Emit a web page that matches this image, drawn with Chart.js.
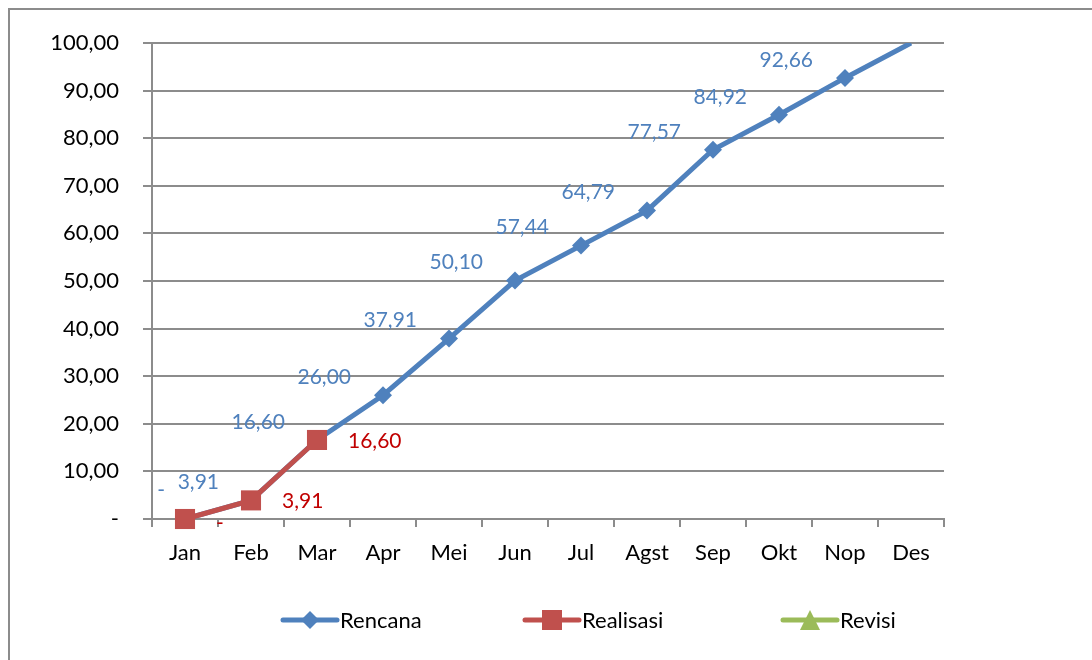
<!DOCTYPE html>
<html>
<head>
<meta charset="utf-8">
<script src="https://cdn.jsdelivr.net/npm/chart.js@4.4.1/dist/chart.umd.min.js"></script>
<style>
  html, body { margin: 0; padding: 0; background: #fff; overflow: hidden; }
  #frame { position: absolute; left: 8px; top: 8px; width: 1200px; height: 800px; border: 2px solid #8c8c8c; box-sizing: border-box; }
  #wrap { position: absolute; left: 0; top: 0; width: 1092px; height: 660px; }
</style>
</head>
<body>
<div id="frame"></div>
<div id="wrap"><canvas id="c" width="1092" height="660"></canvas></div>
<script>
// ---- data ----
const categories = ['Jan', 'Feb', 'Mar', 'Apr', 'Mei', 'Jun', 'Jul', 'Agst', 'Sep', 'Okt', 'Nop', 'Des'];
const rencana   = [0, 3.91, 16.60, 26.00, 37.91, 50.10, 57.44, 64.79, 77.57, 84.92, 92.66, 100.00];
const realisasi = [0, 3.91, 16.60, null, null, null, null, null, null, null, null, null];
const revisi    = [null, null, null, null, null, null, null, null, null, null, null, null];
const yTicks    = [0, 10, 20, 30, 40, 50, 60, 70, 80, 90, 100];

const FONT = 'Lato, "Open Sans", sans-serif';
const BLUE = '#4F81BD', RED = '#C0504D', GREEN = '#9BBB59';

function fmt(v) { return v === 0 ? '-' : v.toFixed(2).replace('.', ','); }

const dataLabels = {
  id: 'dataLabels',
  afterDatasetsDraw(chart) {
    const ctx = chart.ctx;
    const yMax = chart.scales.y.max;
    ctx.save();
    ctx.font = '21px ' + FONT;
    ctx.textBaseline = 'middle';
    chart.data.datasets.forEach((ds, di) => {
      const cfg = ds.labelStyle;
      if (!cfg) return;
      const meta = chart.getDatasetMeta(di);
      meta.data.forEach((pt, i) => {
        const v = ds.data[i];
        if (v === null || v === undefined || v >= yMax) return;
        const z = v === 0 && cfg.zero ? cfg.zero : cfg;
        ctx.fillStyle = cfg.color;
        ctx.textAlign = cfg.align;
        ctx.fillText(fmt(v), pt.x + z.dx, pt.y + z.dy);
      });
    });
    ctx.restore();
  }
};

function markerIcon(color, style) {
  const c = document.createElement('canvas');
  c.width = 60; c.height = 22;
  const g = c.getContext('2d');
  g.strokeStyle = color; g.fillStyle = color; g.lineWidth = 5; g.lineCap = 'round';
  g.beginPath(); g.moveTo(3, 11); g.lineTo(57, 11); g.stroke();
  g.beginPath();
  if (style === 'rectRot') { g.moveTo(30, 2); g.lineTo(39, 11); g.lineTo(30, 20); g.lineTo(21, 11); g.closePath(); }
  else if (style === 'rect') { g.rect(20, 1, 20, 20); }
  else { g.moveTo(30, 1); g.lineTo(40, 21); g.lineTo(20, 21); g.closePath(); }
  g.fill();
  return c;
}

const customLegend = {
  id: 'customLegend',
  afterDraw(chart, args, opts) {
    const ctx = chart.ctx;
    ctx.save();
    ctx.font = '22px ' + FONT;
    ctx.textBaseline = 'middle';
    ctx.textAlign = 'left';
    ctx.fillStyle = '#000';
    chart.data.datasets.forEach((ds, i) => {
      const x = opts.xs[i], y = opts.y;
      ctx.drawImage(markerIcon(ds.borderColor, ds.pointStyle), x - 2, y - 11);
      ctx.fillText(ds.label, x + 58, y + 1);
    });
    ctx.restore();
  }
};

new Chart(document.getElementById('c'), {
  type: 'line',
  data: {
    labels: categories,
    datasets: [
      {
        label: 'Rencana', data: rencana, order: 2,
        borderColor: BLUE, backgroundColor: BLUE, borderWidth: 5,
        pointStyle: 'rectRot', pointRadius: rencana.map(v => v >= 100 ? 0 : 9), pointBorderWidth: 0,
        pointBackgroundColor: BLUE, tension: 0,
        labelStyle: { color: '#4F81BD', align: 'right', dx: -32, dy: -18, zero: { dx: -20, dy: -29 } }
      },
      {
        label: 'Realisasi', data: realisasi, order: 1,
        borderColor: RED, backgroundColor: RED, borderWidth: 5,
        pointStyle: 'rect', pointRadius: 14.2, pointBorderWidth: 0,
        pointBackgroundColor: RED, tension: 0, clip: 20,
        labelStyle: { color: '#C00000', align: 'left', dx: 31, dy: 1, zero: { dx: 31, dy: 4 } }
      },
      {
        label: 'Revisi', data: revisi, order: 0,
        borderColor: GREEN, backgroundColor: GREEN, borderWidth: 5,
        pointStyle: 'triangle', pointRadius: 9, pointBorderWidth: 0, tension: 0
      }
    ]
  },
  options: {
    responsive: false,
    animation: false,
    layout: { padding: { left: 0, right: 148, top: 43, bottom: 0 } },
    plugins: {
      legend: { display: false },
      tooltip: { enabled: false },
      customLegend: { xs: [282, 524, 782], y: 620 }
    },
    scales: {
      x: {
        offset: true,
        grid: { offset: true, drawOnChartArea: false, drawTicks: true, tickLength: 8, color: '#8c8c8c', lineWidth: 2 },
        border: { display: true, color: '#8c8c8c', width: 2 },
        ticks: { color: '#000', font: { family: FONT, size: 22 }, padding: 13, maxRotation: 0, autoSkip: false },
        afterFit(scale) { scale.height = 141; }
      },
      y: {
        min: 0, max: 100,
        afterBuildTicks(scale) { scale.ticks = yTicks.map(v => ({ value: v })); },
        grid: { color: '#8c8c8c', lineWidth: 2, tickLength: 9, drawTicks: true },
        border: { display: true, color: '#8c8c8c', width: 2 },
        ticks: { color: '#000', font: { family: FONT, size: 22 }, padding: 24, callback: v => fmt(v) },
        afterFit(scale) { scale.width = 152; }
      }
    }
  },
  plugins: [dataLabels, customLegend]
});
</script>
</body>
</html>
